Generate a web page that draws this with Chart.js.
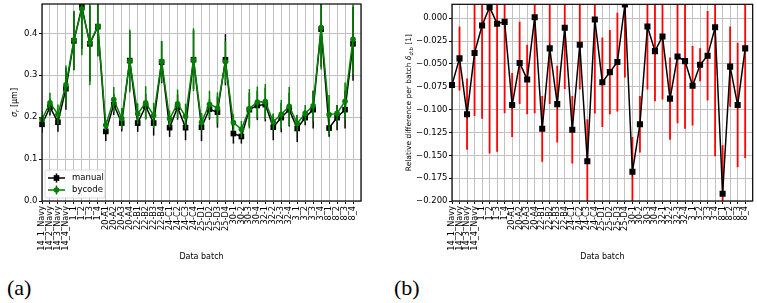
<!DOCTYPE html>
<html>
<head>
<meta charset="utf-8">
<script src="https://cdn.jsdelivr.net/npm/chart.js@4.4.0/dist/chart.umd.min.js"></script>
<style>
  body { margin: 0; background: #fff; width: 757px; height: 303px; position: relative; overflow: hidden; }
  .panel { position: absolute; top: 0; }
  #wrapA { left: 0; }
  #wrapB { left: 378px; }
  .tag { position: absolute; top: 275px; font-family: 'Liberation Serif', serif; font-size: 22px; color: #000; }
</style>
</head>
<body>
<div class="panel" id="wrapA"><canvas id="chartA" width="378" height="268"></canvas></div>
<div class="panel" id="wrapB"><canvas id="chartB" width="379" height="268"></canvas></div>
<div class="tag" style="left:7px">(a)</div>
<div class="tag" style="left:394px">(b)</div>
<script>
// batches on the x axis
const batches = ['14_1_Navy', '14_2_Navy', '14_3_Navy', '14_4_Navy', '1_1', '1_2', '1_3', '1_4',
  '20-A1', '20-A2', '20-A3', '20-A4', '22-B1', '22-B2', '22-B3', '22-B4',
  '24-C1', '24-C2', '24-C3', '24-C4', '25-D1', '25-D2', '25-D3', '25-D4',
  '30-1', '30-2', '30-3', '30-4', '32-1', '32-2', '32-3', '32-4',
  '3_1', '3_2', '3_3', '3_4', '8_1', '8_2', '8_3', '8_4'];

// (a) sigma_r per batch, manual vs bycode
const manualVals = [0.183, 0.224, 0.188, 0.268, 0.382, 0.463, 0.375, 0.416, 0.166, 0.230,
  0.186, 0.335, 0.186, 0.226, 0.186, 0.331, 0.175, 0.224, 0.175, 0.337,
  0.176, 0.219, 0.212, 0.337, 0.161, 0.154, 0.218, 0.228, 0.230, 0.176,
  0.199, 0.218, 0.173, 0.199, 0.218, 0.410, 0.174, 0.199, 0.218, 0.375];
const manualErr = [0.020, 0.020, 0.023, 0.050, 0.070, 0.100, 0.090, 0.070, 0.023, 0.025,
  0.020, 0.070, 0.021, 0.030, 0.030, 0.050, 0.022, 0.030, 0.030, 0.070,
  0.033, 0.025, 0.037, 0.061, 0.024, 0.017, 0.040, 0.035, 0.040, 0.031,
  0.035, 0.040, 0.032, 0.018, 0.045, 0.090, 0.021, 0.030, 0.045, 0.088];
const bycodeVals = [0.195, 0.234, 0.207, 0.277, 0.384, 0.458, 0.377, 0.417, 0.181, 0.242,
  0.197, 0.334, 0.208, 0.234, 0.204, 0.333, 0.196, 0.232, 0.202, 0.337,
  0.188, 0.231, 0.222, 0.332, 0.187, 0.171, 0.220, 0.236, 0.237, 0.189,
  0.207, 0.226, 0.185, 0.209, 0.227, 0.414, 0.206, 0.209, 0.238, 0.386];
const bycodeErr = [0.020, 0.024, 0.023, 0.046, 0.070, 0.110, 0.100, 0.072, 0.012, 0.030,
  0.025, 0.075, 0.025, 0.040, 0.030, 0.049, 0.020, 0.034, 0.030, 0.075,
  0.020, 0.032, 0.037, 0.050, 0.020, 0.020, 0.047, 0.037, 0.042, 0.020,
  0.034, 0.046, 0.020, 0.020, 0.036, 0.100, 0.047, 0.020, 0.045, 0.083];

// (b) relative difference per batch
const relDiff = [-0.073, -0.044, -0.105, -0.038, -0.008, 0.012, -0.006, -0.004, -0.095, -0.049,
  -0.067, 0.001, -0.121, -0.033, -0.094, -0.0105, -0.122, -0.029, -0.1565, -0.0014,
  -0.070, -0.059, -0.048, 0.015, -0.168, -0.116, -0.009, -0.036, -0.020, -0.088,
  -0.042, -0.047, -0.074, -0.051, -0.041, -0.010, -0.192, -0.053, -0.095, -0.033];
const relErr = [0.003, 0.035, 0.039, 0.069, 0.102, 0.160, 0.140, 0.100, 0.035, 0.045,
  0.038, 0.105, 0.036, 0.061, 0.042, 0.067, 0.037, 0.049, 0.046, 0.103,
  0.049, 0.046, 0.054, 0.080, 0.038, 0.031, 0.069, 0.055, 0.069, 0.045,
  0.073, 0.074, 0.0435, 0.018, 0.049, 0.141, 0.053, 0.044, 0.068, 0.120];

// y ticks
const yTicksA = [0, 0.1, 0.2, 0.3, 0.4];
const yTicksB = [0, -0.025, -0.05, -0.075, -0.1, -0.125, -0.15, -0.175, -0.2];

Chart.defaults.font.family = "'DejaVu Sans', sans-serif";
Chart.defaults.font.size = 8.5;
Chart.defaults.color = '#000';

// vertical error bars, drawn under each dataset
const errorBars = {
  id: 'errorBars',
  beforeDatasetDraw(chart, args) {
    const ds = chart.data.datasets[args.index];
    if (!ds.errors) return;
    const { ctx, chartArea: a, scales: { x, y } } = chart;
    ctx.save();
    ctx.beginPath();
    ctx.rect(a.left, a.top, a.right - a.left, a.bottom - a.top);
    ctx.clip();
    ctx.strokeStyle = ds.errColor;
    ctx.lineWidth = ds.errWidth || 1.5;
    ds.data.forEach((v, i) => {
      const px = x.getPixelForValue(i);
      ctx.beginPath();
      ctx.moveTo(px, y.getPixelForValue(v - ds.errors[i]));
      ctx.lineTo(px, y.getPixelForValue(v + ds.errors[i]));
      ctx.stroke();
    });
    ctx.restore();
  }
};

// black box round the plot
const frame = {
  id: 'frame',
  afterDraw(chart) {
    const { ctx, chartArea: a } = chart;
    ctx.save();
    ctx.strokeStyle = '#000';
    ctx.lineWidth = 1.2;
    ctx.strokeRect(a.left, a.top, a.right - a.left, a.bottom - a.top);
    ctx.restore();
  }
};

// rotated y title with a subscript part
const yTitle = {
  id: 'yTitle',
  afterDraw(chart, args, o) {
    if (!o.parts) return;
    const { ctx, chartArea: a } = chart;
    const fam = "'DejaVu Sans', sans-serif";
    const fontOf = p => (p.italic ? 'italic ' : '') + (p.sub ? o.size * 0.7 : o.size) + 'px ' + fam;
    ctx.save();
    ctx.translate(a.left + o.dx, (a.top + a.bottom) / 2);
    ctx.rotate(-Math.PI / 2);
    ctx.textBaseline = 'middle';
    ctx.fillStyle = '#000';
    let total = 0;
    o.parts.forEach(p => { ctx.font = fontOf(p); total += ctx.measureText(p.t).width; });
    let cx = -total / 2;
    o.parts.forEach(p => {
      ctx.font = fontOf(p);
      ctx.fillText(p.t, cx, p.sub ? 2.4 : 0);
      cx += ctx.measureText(p.t).width;
    });
    ctx.restore();
  }
};

// legend box in the lower left corner
const boxLegend = {
  id: 'boxLegend',
  afterDraw(chart, args, o) {
    if (!o.show) return;
    const { ctx, chartArea: a } = chart;
    const x0 = a.left + 3, y0 = a.bottom - 31, w = 60, h = 28;
    ctx.save();
    ctx.beginPath();
    if (ctx.roundRect) ctx.roundRect(x0, y0, w, h, 2); else ctx.rect(x0, y0, w, h);
    ctx.fillStyle = 'rgba(255,255,255,0.85)';
    ctx.fill();
    ctx.strokeStyle = '#d0d0d0';
    ctx.lineWidth = 0.8;
    ctx.stroke();
    chart.data.datasets.forEach((ds, i) => {
      const cy = y0 + 8 + i * 12;
      const mx = x0 + 11.5;
      ctx.strokeStyle = ds.borderColor;
      ctx.fillStyle = ds.borderColor;
      ctx.lineWidth = 1.5;
      ctx.beginPath();
      ctx.moveTo(x0 + 3, cy); ctx.lineTo(x0 + 20, cy);
      ctx.moveTo(mx, cy - 4.5); ctx.lineTo(mx, cy + 4.5);
      ctx.stroke();
      ctx.beginPath();
      if (ds.pointStyle === 'rect') {
        const s = ds.pointRadius * Math.SQRT1_2;
        ctx.rect(mx - s, cy - s, 2 * s, 2 * s);
      } else {
        ctx.arc(mx, cy, ds.pointRadius, 0, Math.PI * 2);
      }
      ctx.fill();
      ctx.fillStyle = '#000';
      ctx.font = "8.5px 'DejaVu Sans', sans-serif";
      ctx.textBaseline = 'middle';
      ctx.fillText(ds.label, x0 + 27, cy);
    });
    ctx.restore();
  }
};

function xScale() {
  return {
    type: 'category',
    offset: false,
    grid: {
      color: '#c2c2c2',
      lineWidth: 1,
      tickLength: 3,
      tickColor: c => (c.index < batches.length ? '#000' : 'rgba(0,0,0,0)')
    },
    border: { display: false },
    ticks: { autoSkip: false, minRotation: 90, maxRotation: 90, padding: 2, font: { size: 8.2 } },
    title: { display: true, text: 'Data batch', font: { size: 8 }, padding: { top: 0, bottom: 6 } },
    afterFit: s => { s.height = 67; s.paddingLeft = 0; s.paddingRight = 0; }
  };
}

function yScale(min, max, ticks, fmt, width) {
  return {
    min: min,
    max: max,
    grid: { color: '#c2c2c2', lineWidth: 1, tickLength: 3, tickColor: '#000' },
    border: { display: false },
    ticks: { padding: 1.5, font: { size: 8.5 }, callback: fmt },
    afterBuildTicks: s => { s.ticks = ticks.map(v => ({ value: v })); },
    afterFit: s => { s.width = width; s.paddingTop = 0; s.paddingBottom = 0; }
  };
}

new Chart(document.getElementById('chartA'), {
  type: 'line',
  data: {
    labels: [...batches, ''],
    datasets: [
      {
        label: 'manual',
        data: manualVals,
        errors: manualErr,
        errColor: '#000',
        borderColor: '#000',
        backgroundColor: '#000',
        borderWidth: 1.5,
        pointStyle: 'rect',
        pointRadius: 4,
        pointBorderWidth: 0,
        tension: 0,
        order: 2
      },
      {
        label: 'bycode',
        data: bycodeVals,
        errors: bycodeErr,
        errColor: '#008000',
        borderColor: '#008000',
        backgroundColor: '#008000',
        borderWidth: 1.5,
        pointStyle: 'circle',
        pointRadius: 2.8,
        pointBorderWidth: 0,
        tension: 0,
        order: 1
      }
    ]
  },
  options: {
    responsive: false,
    animation: false,
    layout: { padding: { top: 3, right: 17, left: 0, bottom: 0 } },
    scales: {
      x: xScale(),
      y: yScale(0, 0.47, yTicksA, v => v.toFixed(1), 42)
    },
    plugins: {
      legend: { display: false },
      tooltip: { enabled: false },
      yTitle: { dx: -27, size: 8, parts: [{ t: 'σ', italic: true }, { t: 'r', italic: true, sub: true }, { t: ' [μm]' }] },
      boxLegend: { show: true }
    }
  },
  plugins: [errorBars, frame, yTitle, boxLegend]
});

new Chart(document.getElementById('chartB'), {
  type: 'line',
  data: {
    labels: [...batches, ''],
    datasets: [
      {
        label: 'relative difference',
        data: relDiff,
        errors: relErr,
        errColor: '#ff0000',
        errWidth: 1.8,
        borderColor: '#000',
        backgroundColor: '#000',
        borderWidth: 1.5,
        pointStyle: 'rect',
        pointRadius: 4.3,
        pointBorderWidth: 0,
        tension: 0
      }
    ]
  },
  options: {
    responsive: false,
    animation: false,
    layout: { padding: { top: 3, right: 3, left: 0, bottom: 0 } },
    scales: {
      x: xScale(),
      y: yScale(-0.2, 0.0152, yTicksB, v => (v < -1e-9 ? '\u2212' : '') + Math.abs(v).toFixed(3), 74)
    },
    plugins: {
      legend: { display: false },
      tooltip: { enabled: false },
      yTitle: {
        dx: -43, size: 7.5,
        parts: [{ t: 'Relative difference per batch ' }, { t: 'δ', italic: true }, { t: 'd:b', italic: true, sub: true }, { t: ' [1]' }]
      },
      boxLegend: { show: false }
    }
  },
  plugins: [errorBars, frame, yTitle, boxLegend]
});
</script>
</body>
</html>
